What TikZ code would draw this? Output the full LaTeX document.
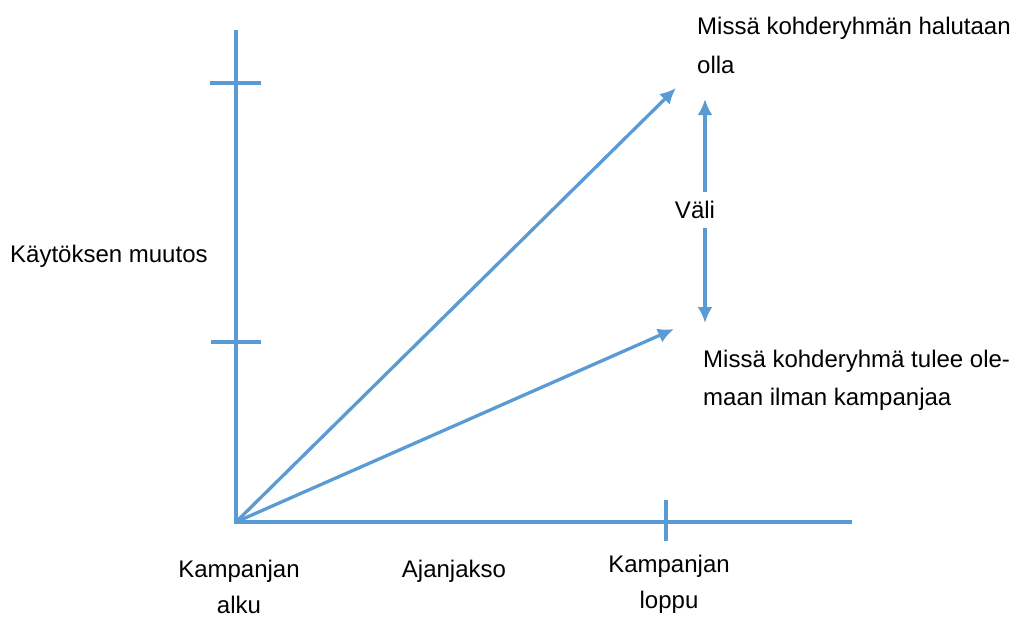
\documentclass[tikz,border=0pt]{standalone}
\usepackage{fontspec}
\setmainfont{Liberation Sans}
\usetikzlibrary{arrows.meta}
\definecolor{axisblue}{RGB}{91,155,213}
\begin{document}
\begin{tikzpicture}[x=1pt,y=-1pt,
  axis/.style={draw=axisblue,line width=3.3pt},
  arr/.style={axis,-{Latex[length=16pt,width=15pt]}},
  lbl/.style={font=\fontsize{24}{39}\selectfont,inner sep=0pt,anchor=base west},
  clbl/.style={font=\fontsize{24}{39}\selectfont,inner sep=0pt,align=center,anchor=base}]
\useasboundingbox (0,0) rectangle (1015,616);
\coordinate (O) at (236,522);
\coordinate (Ytop) at (236,30);
\coordinate (Xend) at (852,522);
\coordinate (t1a) at (210,83); \coordinate (t1b) at (261,83);
\coordinate (t2a) at (211,342); \coordinate (t2b) at (261,342);
\coordinate (t3a) at (666,500); \coordinate (t3b) at (666,541);
\coordinate (A1) at (676,88);
\coordinate (A2) at (674,329);
\coordinate (Vtop) at (705,99);
\coordinate (Vbot) at (705,323);
\draw[axis] (Ytop) -- (O) -- (Xend);
\draw[axis] (t1a) -- (t1b);
\draw[axis] (t2a) -- (t2b);
\draw[axis] (t3a) -- (t3b);
\draw[arr] (O) -- (A1);
\draw[arr] (O) -- (A2);
\node[font=\fontsize{24}{39}\selectfont,inner xsep=0pt,inner ysep=9pt] (vali) at (695,210) {Väli};
\draw[arr] (vali.north -| Vtop) -- (Vtop);
\draw[arr] (vali.south -| Vbot) -- (Vbot);
\node[lbl] (kay) at (10,262) {Käytöksen muutos};
\node[lbl] (halu) at (697,34) {Missä kohderyhmän halutaan};
\node[lbl] (olla) at (697,73) {olla};
\node[lbl] (ilm1) at (703,367) {Missä kohderyhmä tulee ole-};
\node[lbl] (ilm2) at (703,405) {maan ilman kampanjaa};
\node[clbl] (alku1) at (239,577) {Kampanjan};
\node[clbl] (alku2) at (239,613) {alku};
\node[clbl] (ajan) at (454,577) {Ajanjakso};
\node[clbl] (lop1) at (669,572) {Kampanjan};
\node[clbl] (lop2) at (669,608) {loppu};
\end{tikzpicture}
\end{document}
